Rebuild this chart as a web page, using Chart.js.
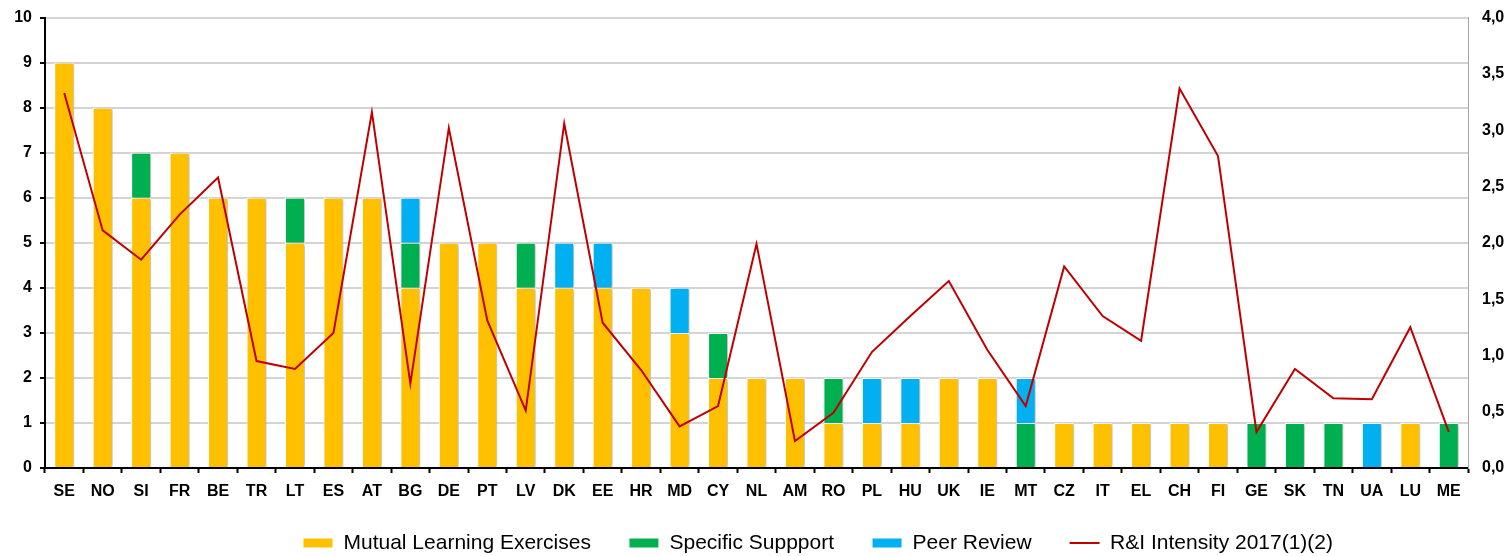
<!DOCTYPE html>
<html>
<head>
<meta charset="utf-8">
<script src="https://cdn.jsdelivr.net/npm/chart.js@4.4.1/dist/chart.umd.min.js"></script>
<style>
  html, body { margin: 0; padding: 0; background: #fff; }
  #wrap { width: 1512px; height: 556px; position: relative; }
</style>
</head>
<body>
<div id="wrap"><canvas id="pilChart"></canvas></div>
<script>
// Countries, in the order of the x axis
const countries = ['SE','NO','SI','FR','BE','TR','LT','ES','AT','BG','DE','PT','LV','DK','EE','HR','MD','CY','NL','AM','RO','PL','HU','UK','IE','MT','CZ','IT','EL','CH','FI','GE','SK','TN','UA','LU','ME'];

// Number of activities per country (left axis)
const mutualLearning = [9,8,6,7,6,6,5,6,6,4,5,5,4,4,4,4,3,2,2,2,1,1,1,2,2,0,1,1,1,1,1,0,0,0,0,1,0];
const specificSupport = [0,0,1,0,0,0,1,0,0,1,0,0,1,0,0,0,0,1,0,0,1,0,0,0,0,1,0,0,0,0,0,1,1,1,0,0,1];
const peerReview = [0,0,0,0,0,0,0,0,0,1,0,0,0,1,1,0,1,0,0,0,0,1,1,0,0,1,0,0,0,0,0,0,0,0,1,0,0];

// R&I intensity 2017 (right axis, % of GDP)
const riIntensity = [3.33,2.11,1.85,2.25,2.58,0.95,0.88,1.20,3.16,0.75,3.02,1.31,0.51,3.06,1.29,0.87,0.37,0.55,1.99,0.24,0.49,1.03,1.35,1.66,1.05,0.55,1.79,1.35,1.13,3.37,2.77,0.32,0.88,0.62,0.61,1.25,0.32];

const leftTicks = { min: 0, max: 10, step: 1 };
const rightTicks = { min: 0, max: 4, step: 0.5 };

const FONT = "'Liberation Sans', Arial, sans-serif";

// soft grey shadow on the right of each bar, like the Excel original
const barShadow = {
    id: 'barShadow',
    beforeDatasetDraw(chart, args) {
        if (args.meta.type !== 'bar') return;
        const c = chart.ctx;
        c.save();
        c.shadowColor = 'rgba(0, 0, 0, 0.25)';
        c.shadowOffsetX = 3;
        c.shadowOffsetY = 0;
        c.shadowBlur = 3;
    },
    afterDatasetDraw(chart, args) {
        if (args.meta.type !== 'bar') return;
        chart.ctx.restore();
    }
};

// legend a bit right of centre, and room below the x axis so its labels are not clipped
const layoutTweaks = {
    id: 'layoutTweaks',
    afterLayout(chart) {
        chart.legend.left += 62;
        chart.legend.right += 62;
        chart.scales.x.bottom += 12;
    }
};

const barCommon = {
    type: 'bar',
    yAxisID: 'y',
    borderColor: '#ffffff',
    borderWidth: 1,
    barPercentage: 0.52,
    categoryPercentage: 1,
    pointStyle: 'rect',
    order: 1
};

new Chart(document.getElementById('pilChart'), {
    data: {
        labels: countries,
        datasets: [{
            ...barCommon,
            label: 'Mutual Learning Exercises',
            data: mutualLearning,
            backgroundColor: '#FFC000'
        }, {
            ...barCommon,
            label: 'Specific Suppport',
            data: specificSupport,
            backgroundColor: '#00B050'
        }, {
            ...barCommon,
            label: 'Peer Review',
            data: peerReview,
            backgroundColor: '#00B0F0'
        }, {
            type: 'line',
            label: 'R&I Intensity 2017(1)(2)',
            data: riIntensity,
            yAxisID: 'y1',
            borderColor: '#C00000',
            backgroundColor: '#C00000',
            borderWidth: 2,
            tension: 0,
            pointRadius: 0,
            pointHoverRadius: 0,
            pointStyle: 'line',
            pointBorderColor: '#C00000',
            pointBorderWidth: 2,
            order: 0
        }]
    },
    options: {
        responsive: true,
        maintainAspectRatio: false,
        animation: false,
        layout: {
            padding: { top: 0, left: 0, right: 0, bottom: -7.5 }
        },
        plugins: {
            tooltip: { enabled: false },
            legend: {
                position: 'bottom',
                labels: {
                    usePointStyle: true,
                    pointStyleWidth: 30,
                    boxHeight: 10,
                    padding: 38,
                    color: '#000',
                    font: { family: FONT, size: 21 },
                    sort: (a, b) => a.datasetIndex - b.datasetIndex
                }
            }
        },
        scales: {
            x: {
                stacked: true,
                offset: true,
                grid: {
                    offset: true,
                    drawOnChartArea: false,
                    drawTicks: true,
                    tickLength: 5,
                    tickColor: '#000',
                    tickWidth: 2
                },
                border: { color: '#000', width: 2 },
                ticks: {
                    color: '#000',
                    padding: 9,
                    maxRotation: 0,
                    autoSkip: false,
                    font: { family: FONT, size: 16, weight: 'bold' }
                },
                afterFit(scale) { scale.height = 26.5; }
            },
            y: {
                stacked: true,
                position: 'left',
                min: leftTicks.min,
                max: leftTicks.max,
                grid: {
                    color: '#d4d4d4',
                    lineWidth: 2,
                    tickLength: 5,
                    tickColor: '#000',
                    tickWidth: 2
                },
                border: { color: '#000', width: 2 },
                ticks: {
                    stepSize: leftTicks.step,
                    color: '#000',
                    padding: 8,
                    font: { family: FONT, size: 16, weight: 'bold' }
                },
                afterFit(scale) { scale.width = 45; }
            },
            y1: {
                position: 'right',
                min: rightTicks.min,
                max: rightTicks.max,
                grid: {
                    drawOnChartArea: false,
                    drawTicks: true,
                    tickLength: 14,
                    tickColor: 'rgba(0, 0, 0, 0)'
                },
                border: { color: '#a6a6a6', width: 1 },
                ticks: {
                    stepSize: rightTicks.step,
                    color: '#000',
                    padding: 0,
                    font: { family: FONT, size: 16, weight: 'bold' },
                    callback: function(value) {
                        return value.toFixed(1).replace('.', ',');
                    }
                },
                afterFit(scale) { scale.width = 44; }
            }
        }
    },
    plugins: [barShadow, layoutTweaks]
});
</script>
</body>
</html>
